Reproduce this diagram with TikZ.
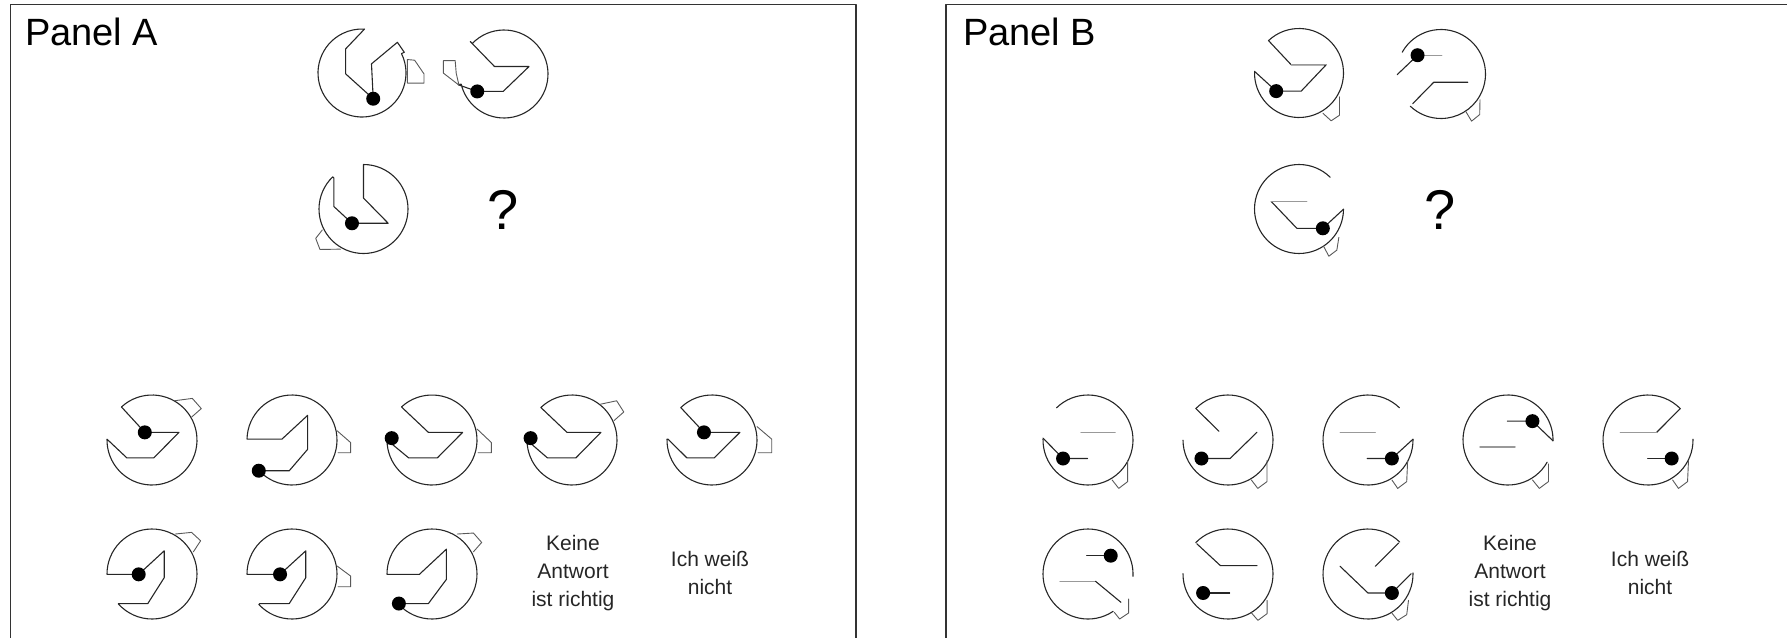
\documentclass[tikz,border=0pt]{standalone}
\usepackage{fontspec}
\setmainfont{Liberation Sans}
% Each glyph is drawn in its own sketch units: the box x0..x1, y0..y1 of its
% outline is mapped onto an outline of centre (cx,cy) and radii rx, ry.
\newcommand\cellsetup[8]{%
  \pgfmathsetmacro\Xc{(#5+#6)/2}\pgfmathsetmacro\Yc{(#7+#8)/2}%
  \pgfmathsetmacro\Hx{(#6-#5)/2}\pgfmathsetmacro\Hy{(#8-#7)/2}%
  \pgfmathsetmacro\Sx{#3/\Hx}\pgfmathsetmacro\Sy{#4/\Hy}%
  \pgfmathsetmacro\Tx{#1-\Sx*\Xc}\pgfmathsetmacro\Ty{#2-\Sy*\Yc}}
\newenvironment{glyphcell}[8]{\cellsetup{#1}{#2}{#3}{#4}{#5}{#6}{#7}{#8}%
  \begin{scope}[shift={(\Tx,\Ty)},xscale=\Sx,yscale=\Sy]}{\end{scope}}
% outline with a notch: P1 -- inner points -- P2, closed by the outer arc
\newcommand\notch[5]{%
  \pgfmathsetmacro\tA{atan2((#2-\Yc)/\Hy,(#1-\Xc)/\Hx)}%
  \pgfmathsetmacro\tB{atan2((#5-\Yc)/\Hy,(#4-\Xc)/\Hx)}%
  \pgfmathsetmacro\tA{\tA<\tB ? \tA+360 : \tA}%
  \draw[figline] ({\Xc+\Hx*cos(\tB)},{\Yc+\Hy*sin(\tB)})
    arc[start angle=\tB,end angle=\tA,x radius=\Hx,y radius=\Hy]
    -- (#1,#2) #3 -- (#4,#5) -- cycle;}
% part of the outline, running clockwise from point 1 to point 2
\newcommand\carc[4]{%
  \pgfmathsetmacro\tA{atan2((#2-\Yc)/\Hy,(#1-\Xc)/\Hx)}%
  \pgfmathsetmacro\tB{atan2((#4-\Yc)/\Hy,(#3-\Xc)/\Hx)}%
  \pgfmathsetmacro\tB{\tB<\tA ? \tB+360 : \tB}%
  \draw[figline] ({\Xc+\Hx*cos(\tA)},{\Yc+\Hy*sin(\tA)})
    arc[start angle=\tA,end angle=\tB,x radius=\Hx,y radius=\Hy];}
\begin{document}
\begin{tikzpicture}[x=1pt,y=-1pt,line join=round,line cap=round,
  figline/.style={draw=black!85,line width=1.1pt},
  grayline/.style={draw=black!40,line width=1.2pt},
  tabline/.style={draw=black!65,line width=0.9pt},
  blob/.style={circle,fill=black,inner sep=0pt,minimum size=14pt},
  frame/.style={draw=black!80,line width=1.6pt},
  paneltitle/.style={anchor=base west,inner sep=0pt,font=\fontsize{38}{42}\selectfont},
  qmark/.style={font=\fontsize{56}{60}\selectfont},
  answer/.style={align=center,font=\fontsize{21}{28}\selectfont,text=black!85}]
\useasboundingbox (0,0) rectangle (1787,637);

% panel frames (open at the bottom and on the far right)
\draw[frame] (10.5,650) -- (10.5,4.5) -- (856,4.5) -- (856,650);
\draw[frame] (946,650) -- (946,4.5) -- (1800,4.5);
\node[paneltitle] (ta) at (25,45) {Panel A};
\node[paneltitle] (tb) at (963,45) {Panel B};

% ---------------- Panel A: problem ----------------
\begin{glyphcell}{362}{73}{44}{44}{55}{310}{30}{295}
  \notch{190}{30}{-- (135,90) -- (135,165) -- (215,240) -- (210,135) -- (285,70)}{305}{100}
  \node[blob] (pa1) at (215,240) {};
  \draw[tabline] (314,122) -- (335,124) -- (362,165) -- (362,193) -- (314,193) -- cycle;
\end{glyphcell}
\begin{glyphcell}{504}{74}{44}{44}{490}{745}{30}{295}
  \notch{485}{195}{-- (540,215) -- (615,215) -- (690,140) -- (590,140)}{520}{65}
  \node[blob] (pa2) at (540,215) {};
  \draw[tabline] (442,122) -- (476,122) -- (479,160) -- (487,196) -- (442,160) -- cycle;
\end{glyphcell}
\begin{glyphcell}{363.5}{209}{44.5}{44.5}{55}{325}{45}{310}
  \notch{100}{85}{-- (100,170) -- (155,220) -- (265,220) -- (190,145)}{190}{45}
  \node[blob] (pa3) at (155,220) {};
  \draw[tabline] (65,240) -- (45,265) -- (58,298) -- (120,297);
\end{glyphcell}
\node[qmark] (qa) at (503,210) {?};

% ---------------- Panel A: answers, row 1 ----------------
\begin{glyphcell}{152}{440}{45}{45}{35}{285}{35}{300}
  \notch{35}{165}{-- (90,220) -- (165,220) -- (235,145) -- (140,145)}{75}{70}
  \node[blob] (aa1) at (140,145) {};
  \draw[tabline] (222,52) -- (272,45) -- (297,75) -- (270,100);
\end{glyphcell}
\begin{glyphcell}{292}{440}{45}{45}{430}{675}{35}{300}
  \notch{462}{258}{-- (545,258) -- (595,195) -- (595,95) -- (525,165)}{430}{165}
  \node[blob] (aa2) at (462,258) {};
  \draw[tabline] (675,140) -- (712,175) -- (712,205) -- (678,205);
\end{glyphcell}
\begin{glyphcell}{432}{440}{45}{45}{815}{1065}{35}{300}
  \notch{818}{170}{-- (875,220) -- (955,220) -- (1025,145) -- (930,145)}{860}{75}
  \node[blob] (aa3) at (828,162) {};
  \draw[tabline] (1065,135) -- (1105,175) -- (1105,205) -- (1068,205);
\end{glyphcell}
\begin{glyphcell}{572}{440}{45}{45}{1208}{1460}{35}{300}
  \notch{1210}{170}{-- (1265,220) -- (1345,220) -- (1415,145) -- (1320,145)}{1250}{75}
  \node[blob] (aa4) at (1218,162) {};
  \draw[tabline] (1414,62) -- (1459,52) -- (1479,85) -- (1452,110);
\end{glyphcell}
\begin{glyphcell}{712}{440}{45}{45}{92}{355}{35}{300}
  \notch{95}{165}{-- (150,220) -- (230,220) -- (305,145) -- (200,145)}{135}{75}
  \node[blob] (aa5) at (200,145) {};
  \draw[tabline] (355,128) -- (398,165) -- (398,205) -- (358,205);
\end{glyphcell}

% ---------------- Panel A: answers, row 2 ----------------
\begin{glyphcell}{152}{574}{45}{45}{38}{285}{50}{318}
  \notch{70}{272}{-- (150,272) -- (195,195) -- (195,115) -- (125,185)}{38}{185}
  \node[blob] (aa6) at (125,185) {};
  \draw[tabline] (225,65) -- (270,60) -- (295,85) -- (275,118);
\end{glyphcell}
\begin{glyphcell}{292}{574}{45}{45}{430}{675}{50}{318}
  \notch{465}{272}{-- (545,272) -- (590,195) -- (590,115) -- (520,185)}{430}{185}
  \node[blob] (aa7) at (520,185) {};
  \draw[tabline] (675,160) -- (712,190) -- (712,222) -- (678,222);
\end{glyphcell}
\begin{glyphcell}{432}{574}{45}{45}{825}{1075}{50}{318}
  \notch{858}{272}{-- (940,272) -- (990,200) -- (990,110) -- (915,185)}{825}{185}
  \node[blob] (aa8) at (858,272) {};
  \draw[tabline] (1020,65) -- (1065,62) -- (1088,90) -- (1065,118);
\end{glyphcell}
\node[answer] (na) at (573,573) {Keine\\Antwort\\ist richtig};
\node[answer] (ia) at (710,573) {Ich weiß\\nicht};

% ---------------- Panel B: problem ----------------
\begin{glyphcell}{1299}{73}{44.5}{44.5}{105}{372}{25}{295}
  \notch{105}{155}{-- (170,215) -- (245,215) -- (320,135) -- (215,135)}{150}{65}
  \draw[grayline] (215,135) -- (320,135);
  \node[blob] (pb1) at (170,215) {};
  \draw[tabline] (310,282) -- (335,305) -- (360,288) -- (360,232);
\end{glyphcell}
\begin{glyphcell}{1441}{74}{44.5}{44.5}{525}{800}{25}{295}
  \carc{545}{95}{575}{250}
  \draw[figline] (527,162) -- (590,103);
  \draw[grayline] (590,103) -- (665,103);
  \draw[figline] (575,250) -- (640,185) -- (745,185);
  \node[blob] (pb2) at (590,103) {};
  \draw[tabline] (738,272) -- (757,303) -- (782,283) -- (783,238);
\end{glyphcell}
\begin{glyphcell}{1299}{209}{44.5}{44.5}{105}{372}{45}{310}
  \carc{372}{178}{330}{85}
  \draw[figline] (372,178) -- (310,235) -- (232,235) -- (155,155);
  \draw[grayline] (155,155) -- (262,155);
  \node[blob] (pb3) at (310,235) {};
  \draw[tabline] (312,288) -- (328,318) -- (352,300) -- (358,262);
\end{glyphcell}
\node[qmark] (qb) at (1440,210) {?};

% ---------------- Panel B: answers, row 1 ----------------
\begin{glyphcell}{1088}{440}{45}{45}{30}{232}{35}{300}
  \carc{62}{75}{30}{165}
  \draw[figline] (30,162) -- (75,222) -- (130,222);
  \draw[grayline] (115,145) -- (192,145);
  \node[blob] (ba1) at (75,222) {};
  \draw[tabline] (185,285) -- (200,310) -- (220,290) -- (220,228);
\end{glyphcell}
\begin{glyphcell}{1228}{440}{45}{45}{350}{545}{35}{300}
  \carc{378}{75}{350}{168}
  \draw[figline] (378,75) -- (428,142);
  \draw[figline] (390,222) -- (452,222) -- (510,145);
  \node[blob] (ba2) at (390,222) {};
  \draw[tabline] (498,285) -- (512,310) -- (532,290) -- (532,228);
\end{glyphcell}
\begin{glyphcell}{1368}{440}{45}{45}{662}{862}{35}{300}
  \carc{862}{165}{830}{75}
  \draw[figline] (862,165) -- (815,222) -- (760,222);
  \draw[grayline] (700,145) -- (778,145);
  \node[blob] (ba3) at (815,222) {};
  \draw[tabline] (815,285) -- (828,310) -- (848,290) -- (850,230);
\end{glyphcell}
\begin{glyphcell}{1508}{440}{45}{45}{978}{1175}{35}{300}
  \carc{1165}{235}{1175}{170}
  \draw[figline] (1175,170) -- (1130,112) -- (1075,112);
  \draw[grayline] (1015,188) -- (1092,188);
  \node[blob] (ba4) at (1130,112) {};
  \draw[tabline] (1130,285) -- (1145,310) -- (1165,290) -- (1165,238);
\end{glyphcell}
\begin{glyphcell}{1648}{440}{45}{45}{1292}{1490}{35}{300}
  \carc{1490}{165}{1462}{75}
  \draw[figline] (1462,75) -- (1410,145);
  \draw[grayline] (1330,145) -- (1410,145);
  \draw[figline] (1390,222) -- (1443,222);
  \node[blob] (ba5) at (1443,222) {};
  \draw[tabline] (1445,285) -- (1458,310) -- (1478,290) -- (1480,230);
\end{glyphcell}

% ---------------- Panel B: answers, row 2 ----------------
\begin{glyphcell}{1088}{574}{45}{45}{30}{232}{48}{318}
  \carc{190}{300}{230}{190}
  \draw[figline] (128,128) -- (182,128);
  \draw[grayline] (68,205) -- (148,205);
  \draw[figline] (148,205) -- (205,268);
  \node[blob] (ba6) at (182,128) {};
  \draw[tabline] (190,298) -- (202,318) -- (222,300) -- (222,258);
\end{glyphcell}
\begin{glyphcell}{1228}{574}{45}{45}{348}{545}{48}{318}
  \carc{378}{92}{348}{182}
  \draw[figline] (378,92) -- (430,158) -- (510,158);
  \draw[figline] (392,240) -- (450,240);
  \node[blob] (ba7) at (392,240) {};
  \draw[tabline] (498,300) -- (512,322) -- (532,302) -- (532,262);
\end{glyphcell}
\begin{glyphcell}{1368}{574}{45}{45}{662}{862}{48}{318}
  \carc{860}{180}{830}{90}
  \draw[figline] (830,90) -- (778,160);
  \draw[figline] (700,160) -- (762,240) -- (815,240) -- (858,182);
  \node[blob] (ba8) at (815,240) {};
  \draw[tabline] (815,300) -- (828,322) -- (848,305) -- (852,262);
\end{glyphcell}
\node[answer] (nb) at (1510,573) {Keine\\Antwort\\ist richtig};
\node[answer] (ib) at (1650,573) {Ich weiß\\nicht};
\end{tikzpicture}
\end{document}
